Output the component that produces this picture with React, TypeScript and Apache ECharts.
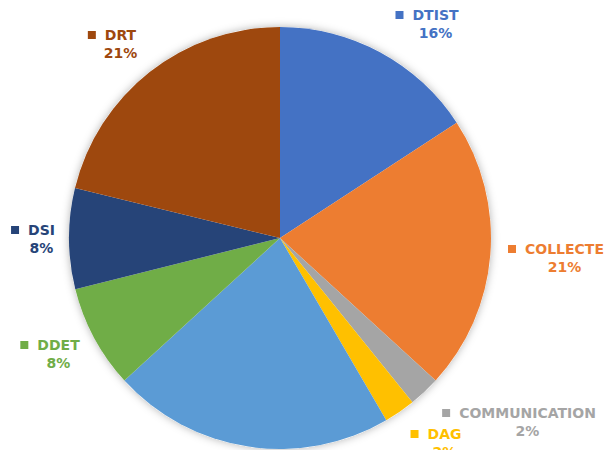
import React, { useEffect, useRef } from "react";
import * as echarts from "echarts";

const names = ["DTIST", "COLLECTE", "COMMUNICATION", "DAG", "AUTRES", "DDET", "DSI", "DRT"];
const values = [15.8, 21.0, 2.4, 2.4, 21.6, 7.9, 7.7, 21.2];
const colors = ["#4472C4", "#ED7D31", "#A5A5A5", "#FFC000", "#5B9BD5", "#70AD47", "#264478", "#9E480E"];
const showLabel = [true, true, true, true, false, true, true, true];
// label block centres (x, y) in pixels
const labelPos: [number, number][] = [
  [427, 24],
  [556, 258],
  [519, 422],
  [436, 443],
  [0, 0],
  [50, 354],
  [33, 239],
  [112, 44],
];

export default function App() {
  const ref = useRef<HTMLDivElement>(null);
  useEffect(() => {
    if (!ref.current) return;
    const chart = echarts.init(ref.current, null, { renderer: "svg" });
    const font = "'DejaVu Sans', sans-serif";
    const data = names.map((n, i) => ({
      name: n,
      value: values[i],
      itemStyle: { color: colors[i] },
      label: {
        show: showLabel[i],
        formatter: (p: any) => `{sq| }{nm|${p.name}}\n{sp| }{pc|${Math.round(p.value)}%}`,
        rich: {
          sq: { width: 8, height: 8, backgroundColor: colors[i], lineHeight: 18 },
          nm: { color: colors[i], fontFamily: font, fontWeight: "bold", fontSize: 14, padding: [0, 0, 0, 9], lineHeight: 18 },
          sp: { width: 17, lineHeight: 18 },
          pc: { color: colors[i], fontFamily: font, fontWeight: "bold", fontSize: 14, lineHeight: 18 },
        },
      },
    }));
    chart.setOption({
      animation: false,
      backgroundColor: "#ffffff",
      series: [
        {
          type: "pie",
          silent: true,
          center: [280, 238],
          radius: 211,
          z: 1,
          label: { show: false },
          labelLine: { show: false },
          itemStyle: { color: "#ffffff", shadowBlur: 8, shadowColor: "rgba(0,0,0,0.3)" },
          data: [{ value: 1, name: "" }],
        },
        {
          type: "pie",
          center: [280, 238],
          radius: 211,
          startAngle: 90,
          clockwise: true,
          z: 2,
          avoidLabelOverlap: false,
          itemStyle: { borderWidth: 0 },
          label: { position: "outside" },
          labelLine: { show: false },
          labelLayout: (p: any) => ({
            x: labelPos[p.dataIndex][0],
            y: labelPos[p.dataIndex][1],
            align: "center",
            verticalAlign: "middle",
          }),
          data,
        },
      ],
    });
    return () => chart.dispose();
  }, []);
  return <div ref={ref} style={{ position: "fixed", left: 0, top: 0, width: 606, height: 450 }} />;
}
